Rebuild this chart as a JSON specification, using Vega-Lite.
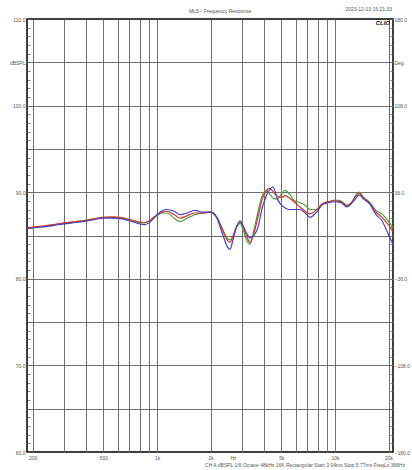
{
  "$schema": "https://vega.github.io/schema/vega-lite/v6.json",
  "width": 366,
  "height": 433,
  "autosize": {"type": "none"},
  "padding": {"left": 27, "top": 19, "right": 19, "bottom": 18},
  "background": "white",
  "config": {
    "view": {"stroke": "#000", "strokeWidth": 1.5},
    "font": "Liberation Sans",
    "text": {"font": "Liberation Sans"}
  },
  "datasets": {
    "curves": [
      {"f":186,"db":85.85,"s":"green"},{"f":220,"db":86.0,"s":"green"},{"f":260,"db":86.2,"s":"green"},{"f":300,"db":86.4,"s":"green"},{"f":350,"db":86.6,"s":"green"},{"f":400,"db":86.75,"s":"green"},{"f":450,"db":86.95,"s":"green"},{"f":500,"db":87.1,"s":"green"},{"f":560,"db":87.1,"s":"green"},{"f":620,"db":87.05,"s":"green"},{"f":700,"db":86.85,"s":"green"},{"f":780,"db":86.55,"s":"green"},{"f":850,"db":86.45,"s":"green"},{"f":920,"db":86.8,"s":"green"},{"f":1000,"db":87.3,"s":"green"},{"f":1070,"db":87.6,"s":"green"},{"f":1140,"db":87.6,"s":"green"},{"f":1250,"db":87.0,"s":"green"},{"f":1350,"db":86.6,"s":"green"},{"f":1480,"db":87.0,"s":"green"},{"f":1630,"db":87.4,"s":"green"},{"f":1810,"db":87.6,"s":"green"},{"f":2000,"db":87.7,"s":"green"},{"f":2170,"db":87.1,"s":"green"},{"f":2350,"db":85.6,"s":"green"},{"f":2500,"db":84.6,"s":"green"},{"f":2570,"db":84.5,"s":"green"},{"f":2680,"db":85.0,"s":"green"},{"f":2800,"db":86.0,"s":"green"},{"f":2930,"db":86.4,"s":"green"},{"f":3050,"db":85.6,"s":"green"},{"f":3200,"db":84.4,"s":"green"},{"f":3330,"db":84.0,"s":"green"},{"f":3500,"db":85.6,"s":"green"},{"f":3700,"db":87.8,"s":"green"},{"f":3900,"db":89.6,"s":"green"},{"f":4100,"db":90.2,"s":"green"},{"f":4300,"db":89.8,"s":"green"},{"f":4500,"db":89.3,"s":"green"},{"f":4750,"db":89.2,"s":"green"},{"f":5000,"db":89.8,"s":"green"},{"f":5240,"db":90.2,"s":"green"},{"f":5550,"db":89.8,"s":"green"},{"f":5900,"db":89.0,"s":"green"},{"f":6350,"db":88.8,"s":"green"},{"f":6800,"db":88.5,"s":"green"},{"f":7240,"db":88.0,"s":"green"},{"f":7800,"db":88.0,"s":"green"},{"f":8565,"db":88.7,"s":"green"},{"f":9200,"db":88.9,"s":"green"},{"f":10000,"db":89.1,"s":"green"},{"f":10800,"db":89.0,"s":"green"},{"f":11680,"db":88.5,"s":"green"},{"f":12500,"db":88.9,"s":"green"},{"f":13100,"db":89.7,"s":"green"},{"f":13640,"db":90.0,"s":"green"},{"f":14500,"db":89.4,"s":"green"},{"f":15730,"db":88.8,"s":"green"},{"f":17000,"db":87.9,"s":"green"},{"f":18370,"db":87.5,"s":"green"},{"f":19500,"db":86.9,"s":"green"},{"f":20370,"db":86.4,"s":"green"},{"f":21180,"db":85.9,"s":"green"},
      {"f":186,"db":85.9,"s":"red"},{"f":220,"db":86.05,"s":"red"},{"f":260,"db":86.25,"s":"red"},{"f":300,"db":86.45,"s":"red"},{"f":350,"db":86.6,"s":"red"},{"f":400,"db":86.75,"s":"red"},{"f":450,"db":86.95,"s":"red"},{"f":500,"db":87.1,"s":"red"},{"f":560,"db":87.15,"s":"red"},{"f":620,"db":87.1,"s":"red"},{"f":700,"db":86.85,"s":"red"},{"f":780,"db":86.6,"s":"red"},{"f":850,"db":86.5,"s":"red"},{"f":920,"db":86.8,"s":"red"},{"f":1000,"db":87.4,"s":"red"},{"f":1070,"db":87.7,"s":"red"},{"f":1140,"db":87.8,"s":"red"},{"f":1250,"db":87.4,"s":"red"},{"f":1350,"db":87.0,"s":"red"},{"f":1480,"db":87.3,"s":"red"},{"f":1630,"db":87.6,"s":"red"},{"f":1810,"db":87.6,"s":"red"},{"f":2000,"db":87.7,"s":"red"},{"f":2170,"db":87.1,"s":"red"},{"f":2350,"db":85.5,"s":"red"},{"f":2500,"db":84.4,"s":"red"},{"f":2570,"db":84.2,"s":"red"},{"f":2680,"db":85.0,"s":"red"},{"f":2800,"db":86.0,"s":"red"},{"f":2930,"db":86.7,"s":"red"},{"f":3050,"db":86.0,"s":"red"},{"f":3200,"db":84.8,"s":"red"},{"f":3330,"db":84.2,"s":"red"},{"f":3500,"db":85.2,"s":"red"},{"f":3700,"db":87.2,"s":"red"},{"f":3900,"db":89.2,"s":"red"},{"f":4100,"db":90.1,"s":"red"},{"f":4260,"db":90.45,"s":"red"},{"f":4490,"db":90.1,"s":"red"},{"f":4750,"db":89.5,"s":"red"},{"f":5000,"db":89.4,"s":"red"},{"f":5240,"db":89.6,"s":"red"},{"f":5550,"db":89.3,"s":"red"},{"f":5900,"db":88.9,"s":"red"},{"f":6350,"db":88.3,"s":"red"},{"f":6800,"db":87.8,"s":"red"},{"f":7240,"db":87.5,"s":"red"},{"f":7800,"db":87.9,"s":"red"},{"f":8565,"db":88.7,"s":"red"},{"f":9200,"db":88.9,"s":"red"},{"f":10000,"db":89.0,"s":"red"},{"f":10800,"db":88.9,"s":"red"},{"f":11680,"db":88.4,"s":"red"},{"f":12500,"db":88.9,"s":"red"},{"f":13100,"db":89.6,"s":"red"},{"f":13640,"db":89.9,"s":"red"},{"f":14500,"db":89.3,"s":"red"},{"f":15730,"db":88.7,"s":"red"},{"f":17000,"db":87.7,"s":"red"},{"f":18370,"db":87.1,"s":"red"},{"f":19500,"db":86.5,"s":"red"},{"f":20370,"db":86.0,"s":"red"},{"f":21180,"db":85.4,"s":"red"},
      {"f":186,"db":85.8,"s":"blue"},{"f":220,"db":85.95,"s":"blue"},{"f":260,"db":86.15,"s":"blue"},{"f":300,"db":86.35,"s":"blue"},{"f":350,"db":86.5,"s":"blue"},{"f":400,"db":86.65,"s":"blue"},{"f":450,"db":86.85,"s":"blue"},{"f":500,"db":87.0,"s":"blue"},{"f":560,"db":87.0,"s":"blue"},{"f":620,"db":86.95,"s":"blue"},{"f":700,"db":86.7,"s":"blue"},{"f":780,"db":86.4,"s":"blue"},{"f":850,"db":86.25,"s":"blue"},{"f":920,"db":86.6,"s":"blue"},{"f":1000,"db":87.4,"s":"blue"},{"f":1070,"db":87.85,"s":"blue"},{"f":1140,"db":88.0,"s":"blue"},{"f":1250,"db":87.8,"s":"blue"},{"f":1350,"db":87.4,"s":"blue"},{"f":1480,"db":87.6,"s":"blue"},{"f":1630,"db":87.9,"s":"blue"},{"f":1810,"db":87.7,"s":"blue"},{"f":2000,"db":87.7,"s":"blue"},{"f":2170,"db":87.0,"s":"blue"},{"f":2350,"db":85.0,"s":"blue"},{"f":2500,"db":83.6,"s":"blue"},{"f":2570,"db":83.4,"s":"blue"},{"f":2680,"db":84.6,"s":"blue"},{"f":2800,"db":86.0,"s":"blue"},{"f":2930,"db":86.6,"s":"blue"},{"f":3050,"db":86.1,"s":"blue"},{"f":3200,"db":85.2,"s":"blue"},{"f":3330,"db":84.7,"s":"blue"},{"f":3500,"db":85.0,"s":"blue"},{"f":3700,"db":86.0,"s":"blue"},{"f":3900,"db":88.2,"s":"blue"},{"f":4100,"db":89.5,"s":"blue"},{"f":4260,"db":90.2,"s":"blue"},{"f":4490,"db":90.6,"s":"blue"},{"f":4750,"db":89.2,"s":"blue"},{"f":5000,"db":88.5,"s":"blue"},{"f":5240,"db":88.2,"s":"blue"},{"f":5550,"db":88.0,"s":"blue"},{"f":5900,"db":88.0,"s":"blue"},{"f":6350,"db":88.0,"s":"blue"},{"f":6800,"db":87.6,"s":"blue"},{"f":7240,"db":87.1,"s":"blue"},{"f":7800,"db":87.6,"s":"blue"},{"f":8565,"db":88.6,"s":"blue"},{"f":9200,"db":88.8,"s":"blue"},{"f":10000,"db":88.9,"s":"blue"},{"f":10800,"db":88.8,"s":"blue"},{"f":11680,"db":88.3,"s":"blue"},{"f":12500,"db":88.8,"s":"blue"},{"f":13100,"db":89.3,"s":"blue"},{"f":13640,"db":89.7,"s":"blue"},{"f":14500,"db":89.2,"s":"blue"},{"f":15730,"db":88.6,"s":"blue"},{"f":17000,"db":87.4,"s":"blue"},{"f":18370,"db":86.7,"s":"blue"},{"f":19500,"db":85.6,"s":"blue"},{"f":20370,"db":84.7,"s":"blue"},{"f":21180,"db":84.0,"s":"blue"}
    ]
  },
  "layer": [
    {
      "data": {"name": "curves"},
      "mark": {"type": "line", "strokeWidth": 1.2, "interpolate": "monotone", "clip": true},
      "encoding": {
        "x": {
          "field": "f", "type": "quantitative",
          "scale": {"type": "log", "domain": [186, 21180], "nice": false},
          "axis": {
            "values": [200,300,400,500,600,700,800,900,1000,2000,2673,3000,4000,5000,6000,7000,8000,9000,10000,20000],
            "labelExpr": "datum.value==2673?'Hz':(indexof([200,500],datum.value)>=0?datum.value+'':(indexof([1000,2000,5000,10000,20000],datum.value)>=0?(datum.value/1000)+'k':''))",
            "grid": true,
            "gridColor": {"condition": {"test": "datum.value==2673", "value": "transparent"}, "value": "#6e6e6e"},
            "gridWidth": 1,
            "ticks": false,
            "domain": false,
            "labelFontSize": 5,
            "labelColor": "#555",
            "labelPadding": 3,
            "labelOverlap": false,
            "labelFlush": false,
            "title": null
          }
        },
        "y": {
          "field": "db", "type": "quantitative",
          "scale": {"domain": [60, 110], "nice": false, "zero": false},
          "axis": {
            "orient": "left",
            "values": [60,61,62,63,64,65,66,67,68,69,70,71,72,73,74,75,76,77,78,79,80,81,82,83,84,85,86,87,88,89,90,91,92,93,94,95,96,97,98,99,100,101,102,103,104,105,106,107,108,109,110],
            "labelExpr": "datum.value==105?'dBSPL':(datum.value%10==0?format(datum.value,'.1f'):'')",
            "grid": true,
            "gridColor": {"condition": {"test": "datum.value%5==0 && datum.value>60 && datum.value<110", "value": "#6e6e6e"}, "value": "transparent"},
            "ticks": true,
            "tickSize": -3,
            "tickColor": "#666",
            "tickWidth": 0.8,
            "domain": false,
            "labelFontSize": 5,
            "labelColor": "#555",
            "labelPadding": 5,
            "labelOverlap": false,
            "labelFlush": false,
            "title": null
          }
        },
        "color": {
          "field": "s", "type": "nominal",
          "scale": {"domain": ["green", "red", "blue"], "range": ["#4aa03e", "#d8352c", "#4b3fc2"]},
          "legend": null
        },
        "order": {"field": "f", "type": "quantitative"}
      }
    },
    {
      "data": {"values": [{}]},
      "mark": {"type": "text", "fontSize": 6, "fontWeight": "bold", "fontStyle": "italic", "align": "right", "baseline": "middle", "fill": "#111"},
      "encoding": {
        "x": {"datum": 20370, "type": "quantitative", "axis": null},
        "y": {
          "datum": 109.54, "type": "quantitative",
          "axis": {
            "orient": "right",
            "values": [60,61,62,63,64,65,66,67,68,69,70,71,72,73,74,75,76,77,78,79,80,81,82,83,84,85,86,87,88,89,90,91,92,93,94,95,96,97,98,99,100,101,102,103,104,105,106,107,108,109,110],
            "labelExpr": "datum.value==105?'Deg':(datum.value%10==0?format((datum.value-85)*7.2,'.1f'):'')",
            "grid": false,
            "ticks": true,
            "tickSize": -3,
            "tickColor": "#666",
            "tickWidth": 0.8,
            "domain": false,
            "labelFontSize": 5,
            "labelColor": "#555",
            "labelPadding": 4,
            "labelOverlap": false,
            "labelFlush": false,
            "title": null
          }
        },
        "text": {"value": "CLIO"}
      }
    },
    {
      "data": {"values": [{}]},
      "mark": {"type": "text", "fontSize": 5, "align": "center", "baseline": "middle", "fill": "#555"},
      "encoding": {
        "x": {"datum": 2260, "type": "quantitative", "axis": null},
        "y": {"datum": 110.92, "type": "quantitative", "axis": null},
        "text": {"value": "MLS - Frequency Response"}
      }
    },
    {
      "data": {"values": [{}]},
      "mark": {"type": "text", "fontSize": 5, "align": "right", "baseline": "middle", "fill": "#555"},
      "encoding": {
        "x": {"datum": 20900, "type": "quantitative", "axis": null},
        "y": {"datum": 111.1, "type": "quantitative", "axis": null},
        "text": {"value": "2023-12-13 15:21:33"}
      }
    },
    {
      "data": {"values": [{}]},
      "mark": {"type": "text", "fontSize": 5, "align": "left", "baseline": "middle", "fill": "#555"},
      "encoding": {
        "x": {"datum": 1861, "type": "quantitative", "axis": null},
        "y": {"datum": 58.5, "type": "quantitative", "axis": null},
        "text": {"value": "CH A   dBSPL     1/6 Octave    48kHz    16K    Rectangular    Start 3.04ms      Stop 5.77ms     FreqLo 366Hz"}
      }
    }
  ],
  "resolve": {"axis": {"x": "independent", "y": "independent"}}
}
